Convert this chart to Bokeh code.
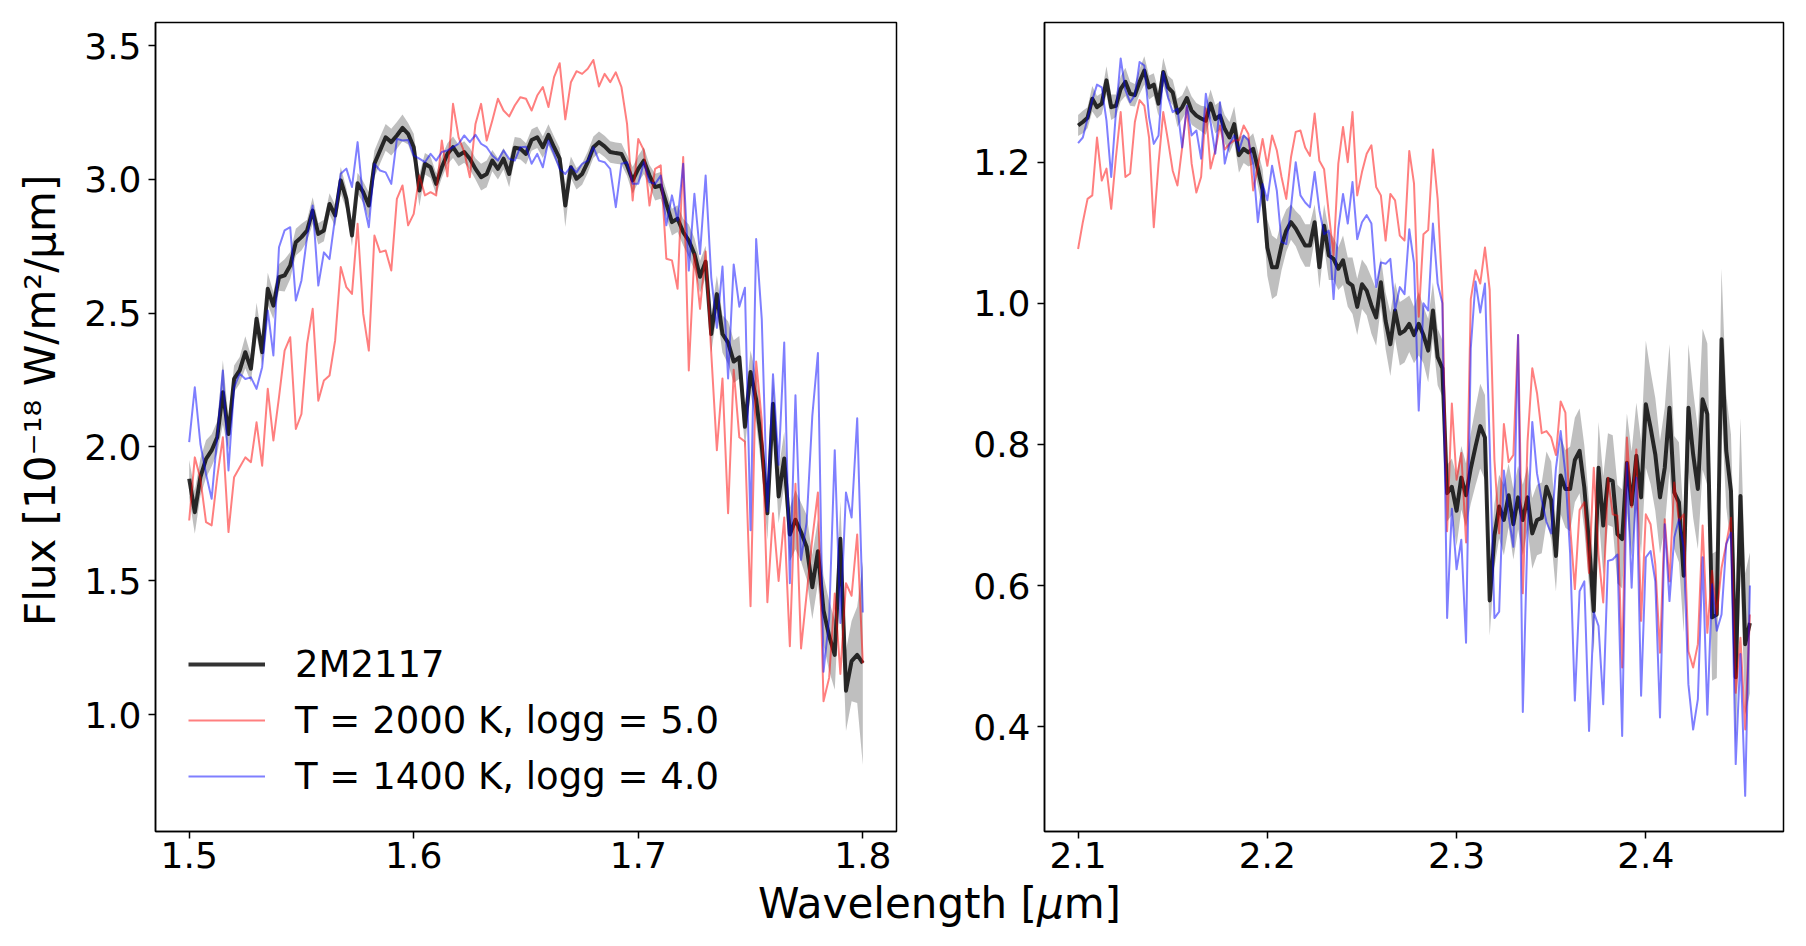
import numpy as np
from bokeh.plotting import figure
from bokeh.layouts import row, column
from bokeh.models import Range1d, FixedTicker, PrintfTickFormatter, Legend, LegendItem, Div
from bokeh.embed import file_html
from bokeh.resources import INLINE

# Wavelength grid of the spectra (micron)
STEP = 0.0025
H_START = 1.5
K_START = 2.1

# H band: observed 2M2117 flux, its uncertainty, and the two model spectra
h_obs = [
    1.881, 1.756, 1.887, 1.955, 1.987, 2.036, 2.204, 2.048, 2.254, 2.286,
    2.354, 2.292, 2.479, 2.354, 2.591, 2.528, 2.634, 2.641, 2.678, 2.765,
    2.784, 2.809, 2.883, 2.796, 2.809, 2.908, 2.865, 2.996, 2.927, 2.790,
    2.985, 2.952, 2.902, 3.058, 3.108, 3.157, 3.139, 3.164, 3.192, 3.170,
    3.120, 2.958, 3.058, 3.045, 2.983, 3.045, 3.095, 3.120, 3.089, 3.102,
    3.077, 3.039, 3.008, 3.020, 3.070, 3.039, 3.077, 3.020, 3.118, 3.114,
    3.095, 3.147, 3.157, 3.120, 3.166, 3.120, 3.077, 2.902, 3.045, 3.002,
    3.020, 3.064, 3.120, 3.139, 3.123, 3.102, 3.098, 3.095, 3.052, 2.996,
    3.039, 3.070, 3.014, 2.971, 2.977, 2.909, 2.840, 2.853, 2.803, 2.771,
    2.721, 2.636, 2.692, 2.422, 2.571, 2.422, 2.390, 2.319, 2.335, 2.075,
    2.280, 2.177, 2.004, 1.752, 2.161, 1.815, 1.957, 1.673, 1.728, 1.681,
    1.626, 1.476, 1.610, 1.389, 1.294, 1.223, 1.657, 1.089, 1.200, 1.223,
    1.192,
]
h_err = [
    0.07, 0.08, 0.07, 0.07, 0.06, 0.06, 0.12, 0.06, 0.05, 0.05, 0.06,
    0.05, 0.06, 0.05, 0.06, 0.05, 0.05, 0.06, 0.05, 0.05, 0.05,
    0.04, 0.05, 0.04, 0.04, 0.04, 0.04, 0.05, 0.04, 0.04, 0.04,
    0.04, 0.05, 0.05, 0.05, 0.05, 0.05, 0.05, 0.05, 0.04, 0.05,
    0.06, 0.04, 0.04, 0.04, 0.04, 0.04, 0.04, 0.04, 0.04, 0.04,
    0.04, 0.05, 0.05, 0.04, 0.04, 0.04, 0.05, 0.04, 0.04, 0.04,
    0.04, 0.04, 0.04, 0.04, 0.04, 0.04, 0.08, 0.04, 0.04, 0.04,
    0.04, 0.04, 0.04, 0.04, 0.04, 0.04, 0.04, 0.04, 0.05, 0.05,
    0.05, 0.04, 0.05, 0.05, 0.05, 0.05, 0.05, 0.05, 0.06, 0.06,
    0.06, 0.06, 0.07, 0.07, 0.07, 0.08, 0.08, 0.08, 0.08, 0.08,
    0.09, 0.09, 0.10, 0.10, 0.10, 0.10, 0.10, 0.11, 0.11, 0.12,
    0.12, 0.12, 0.13, 0.13, 0.13, 0.14, 0.15, 0.15, 0.18, 0.38,
]
h_hot = [
    1.725, 1.961, 1.881, 1.719, 1.707, 1.887, 2.036, 1.682, 1.887, 1.924,
    1.961, 1.943, 2.092, 1.930, 2.217, 2.024, 2.186, 2.360, 2.410, 2.067,
    2.123, 2.385, 2.516, 2.173, 2.248, 2.267, 2.398, 2.672, 2.597, 2.572,
    2.834, 2.497, 2.360, 2.790, 2.728, 2.734, 2.659, 2.927, 2.977, 2.828,
    2.871, 3.014, 2.940, 2.952, 2.940, 3.145, 3.011, 3.282, 3.157, 3.102,
    3.008, 3.207, 3.282, 3.145, 3.220, 3.301, 3.257, 3.235, 3.276, 3.307,
    3.301, 3.257, 3.313, 3.345, 3.270, 3.382, 3.434, 3.224, 3.363, 3.404,
    3.394, 3.413, 3.446, 3.347, 3.394, 3.363, 3.400, 3.345, 3.207, 2.921,
    3.151, 3.108, 2.902, 3.039, 3.052, 2.703, 2.697, 2.591, 3.083, 2.286,
    2.721, 2.516, 2.730, 2.351, 1.988, 2.256, 1.752, 2.288, 2.036, 2.020,
    1.405, 2.319, 2.099, 1.420, 1.752, 1.499, 1.736, 1.255, 1.862, 1.247,
    1.452, 1.657, 1.830, 1.050, 1.137, 1.452, 1.152, 1.491, 1.444, 1.673,
    1.192,
]
h_cool = [
    2.018, 2.223, 2.011, 1.899, 1.806, 2.036, 2.286, 1.912, 2.223, 2.274,
    2.254, 2.260, 2.217, 2.298, 2.510, 2.342, 2.746, 2.809, 2.821, 2.547,
    2.622, 2.784, 2.902, 2.603, 2.727, 2.702, 2.858, 3.021, 3.040, 2.971,
    3.139, 2.921, 2.821, 3.058, 3.033, 3.026, 2.983, 3.151, 3.145, 3.147,
    3.089, 3.077, 3.064, 3.095, 3.070, 3.102, 3.108, 3.120, 3.133, 3.164,
    3.139, 3.166, 3.133, 3.120, 3.089, 3.070, 3.108, 3.077, 3.070, 3.120,
    3.122, 3.058, 3.095, 3.045, 3.145, 3.095, 3.039, 3.020, 3.048, 3.026,
    3.058, 3.070, 3.120, 3.070, 3.064, 3.039, 2.896, 3.058, 3.064, 2.983,
    2.983, 3.064, 2.990, 2.983, 3.014, 2.828, 2.940, 2.846, 3.058, 2.659,
    2.946, 2.721, 3.014, 2.634, 2.445, 2.674, 2.256, 2.682, 2.524, 2.595,
    1.689, 2.777, 2.477, 1.759, 2.272, 1.933, 2.390, 1.491, 2.193, 1.578,
    1.720, 2.115, 2.351, 1.160, 1.357, 1.988, 1.342, 1.830, 1.736, 2.107,
    1.381,
]

# K band
k_obs = [
    1.252, 1.257, 1.263, 1.290, 1.278, 1.283, 1.316, 1.278, 1.280, 1.304,
    1.314, 1.297, 1.295, 1.314, 1.330, 1.306, 1.310, 1.283, 1.328, 1.306,
    1.299, 1.270, 1.278, 1.291, 1.273, 1.266, 1.262, 1.259, 1.283, 1.261,
    1.266, 1.247, 1.235, 1.254, 1.210, 1.219, 1.214, 1.219, 1.191, 1.160,
    1.079, 1.051, 1.051, 1.082, 1.103, 1.115, 1.106, 1.094, 1.082, 1.082,
    1.115, 1.051, 1.110, 1.068, 1.063, 1.049, 1.061, 1.030, 1.025, 0.995,
    1.027, 1.018, 0.997, 0.980, 1.030, 0.975, 0.942, 0.990, 0.957, 0.961,
    0.971, 0.955, 0.971, 0.955, 0.933, 0.990, 0.924, 0.908, 0.731, 0.740,
    0.706, 0.753, 0.728, 0.766, 0.797, 0.826, 0.810, 0.579, 0.671, 0.712,
    0.693, 0.728, 0.687, 0.725, 0.693, 0.725, 0.674, 0.693, 0.696, 0.740,
    0.721, 0.642, 0.756, 0.737, 0.737, 0.778, 0.791, 0.739, 0.659, 0.564,
    0.767, 0.685, 0.751, 0.748, 0.673, 0.666, 0.774, 0.715, 0.784, 0.725,
    0.857, 0.824, 0.786, 0.725, 0.767, 0.852, 0.732, 0.718, 0.614, 0.852,
    0.786, 0.737, 0.864, 0.843, 0.555, 0.559, 0.949, 0.791, 0.734, 0.470,
    0.727, 0.517, 0.547,
]
k_err = [
    0.015, 0.016, 0.015, 0.018, 0.016, 0.015, 0.020, 0.018, 0.016, 0.018,
    0.020, 0.017, 0.016, 0.018, 0.020, 0.017, 0.016, 0.018, 0.020, 0.017,
    0.018, 0.020, 0.017, 0.018, 0.020, 0.018, 0.018, 0.020, 0.020, 0.020,
    0.020, 0.020, 0.022, 0.025, 0.025,
    0.020, 0.020, 0.022, 0.025, 0.030, 0.040, 0.045, 0.040, 0.035, 0.030,
    0.025, 0.025, 0.030, 0.030, 0.030, 0.025, 0.030, 0.030, 0.035, 0.030,
    0.030, 0.035, 0.035, 0.040, 0.040, 0.035,
    0.035, 0.040, 0.040, 0.035, 0.040, 0.045, 0.040, 0.045, 0.045, 0.040,
    0.040, 0.045, 0.040, 0.045, 0.040, 0.040, 0.040,
    0.040, 0.040, 0.050, 0.045, 0.045, 0.050, 0.055, 0.060, 0.060, 0.050,
    0.045, 0.045, 0.050, 0.045, 0.050, 0.045, 0.050, 0.045, 0.050, 0.050,
    0.050, 0.050, 0.055, 0.050, 0.055, 0.055, 0.060, 0.060, 0.060,
    0.060, 0.060, 0.060, 0.065, 0.070, 0.065, 0.065, 0.070, 0.070, 0.070,
    0.075, 0.075, 0.080, 0.090, 0.080, 0.080, 0.080, 0.085, 0.090, 0.080,
    0.085, 0.080, 0.090, 0.090, 0.085, 0.100, 0.100, 0.090, 0.090, 0.100,
    0.080, 0.080, 0.100, 0.110, 0.100, 0.100,
]
k_hot = [
    1.077, 1.115, 1.148, 1.153, 1.235, 1.174, 1.191, 1.134, 1.207, 1.271,
    1.179, 1.184, 1.257, 1.288, 1.280, 1.235, 1.108, 1.198, 1.271, 1.231,
    1.188, 1.167, 1.221, 1.278, 1.198, 1.157, 1.179, 1.276, 1.191, 1.217,
    1.252, 1.218, 1.226, 1.231, 1.231, 1.252, 1.240, 1.160, 1.195, 1.233,
    1.195, 1.238, 1.217, 1.179, 1.148, 1.207, 1.243, 1.245, 1.221, 1.209,
    1.269, 1.202, 1.190, 1.127, 1.068, 1.198, 1.250, 1.200, 1.271, 1.153,
    1.186, 1.212, 1.224, 1.165, 1.153, 1.089, 1.155, 1.146, 1.096, 1.089,
    1.216, 1.170, 0.981, 1.098, 1.104, 1.218, 1.148, 1.012, 0.677, 0.858,
    0.750, 0.788, 0.661, 1.006, 1.047, 1.028, 1.079, 1.019, 0.778, 0.674,
    0.829, 0.775, 0.785, 0.955, 0.589, 0.804, 0.908, 0.873, 0.816, 0.819,
    0.810, 0.785, 0.861, 0.845, 0.684, 0.595, 0.707, 0.718, 0.618, 0.767,
    0.644, 0.576, 0.753, 0.701, 0.699, 0.484, 0.810, 0.711, 0.793, 0.550,
    0.701, 0.687, 0.630, 0.505, 0.694, 0.606, 0.746, 0.692, 0.701, 0.507,
    0.484, 0.517, 0.685, 0.533, 0.621, 0.559, 0.625, 0.659, 0.696, 0.448,
    0.526, 0.396, 0.559,
]
k_cool = [
    1.227, 1.235, 1.262, 1.288, 1.310, 1.306, 1.259, 1.179, 1.271, 1.347,
    1.302, 1.285, 1.295, 1.342, 1.337, 1.264, 1.226, 1.238, 1.328, 1.292,
    1.271, 1.276, 1.221, 1.280, 1.238, 1.245, 1.205, 1.297, 1.257, 1.212,
    1.285, 1.198, 1.226, 1.238, 1.216, 1.238, 1.231, 1.198, 1.115, 1.169,
    1.146, 1.195, 1.160, 1.087, 1.084, 1.136, 1.200, 1.153, 1.143, 1.136,
    1.186, 1.132, 1.098, 1.103, 1.006, 1.106, 1.155, 1.113, 1.172, 1.091,
    1.115, 1.125, 1.113, 1.023, 1.058, 1.056, 1.063, 0.990, 1.023, 1.013,
    1.105, 1.057, 0.848, 1.000, 0.990, 1.113, 1.028, 1.000, 0.554, 0.709,
    0.623, 0.665, 0.519, 0.936, 1.031, 0.987, 1.028, 0.800, 0.554, 0.563,
    0.763, 0.699, 0.655, 0.955, 0.421, 0.677, 0.832, 0.759, 0.721, 0.690,
    0.674, 0.766, 0.819, 0.759, 0.646, 0.437, 0.592, 0.606, 0.394, 0.562,
    0.543, 0.432, 0.635, 0.637, 0.644, 0.387, 0.774, 0.597, 0.753, 0.444,
    0.640, 0.649, 0.606, 0.413, 0.687, 0.578, 0.668, 0.694, 0.654, 0.460,
    0.396, 0.439, 0.640, 0.417, 0.602, 0.536, 0.559, 0.659, 0.675, 0.347,
    0.503, 0.302, 0.600,
]

LABEL_OBS = "2M2117"
LABEL_HOT = "T = 2000 K, logg = 5.0"
LABEL_COOL = "T = 1400 K, logg = 4.0"
Y_LABEL = "Flux [10\u207b\u00b9\u2078 W/m\u00b2/\u03bcm]"

H_XTICKS = [1.5, 1.6, 1.7, 1.8]
H_YTICKS = [1.0, 1.5, 2.0, 2.5, 3.0, 3.5]
K_XTICKS = [2.1, 2.2, 2.3, 2.4]
K_YTICKS = [0.4, 0.6, 0.8, 1.0, 1.2]

FONT = "DejaVu Sans"
TICK_SIZE = "36px"
PLOT_H = 884

wl_h = H_START + STEP * np.arange(len(h_obs))
wl_k = K_START + STEP * np.arange(len(k_obs))


def make_panel(width, border_left, border_right, xr, yr, xticks, yticks):
    p = figure(width=width, height=PLOT_H, x_range=Range1d(*xr), y_range=Range1d(*yr),
               output_backend="svg", toolbar_location=None,
               min_border_left=border_left, min_border_right=border_right,
               min_border_top=22, min_border_bottom=53, margin=0)
    p.grid.visible = False
    p.background_fill_color = "white"
    p.border_fill_color = "white"
    p.outline_line_color = "black"
    p.outline_line_alpha = 1.0
    p.outline_line_width = 1.5
    p.xaxis.ticker = FixedTicker(ticks=xticks)
    p.yaxis.ticker = FixedTicker(ticks=yticks)
    for ax in (p.xaxis[0], p.yaxis[0]):
        ax.formatter = PrintfTickFormatter(format="%.1f")
        ax.axis_line_color = "black"
        ax.axis_line_width = 1.5
        ax.major_tick_line_color = "black"
        ax.major_tick_line_width = 1.5
        ax.major_tick_in = 0
        ax.major_tick_out = 7
        ax.minor_tick_line_color = None
        ax.major_label_text_font = FONT
        ax.major_label_text_font_size = TICK_SIZE
        ax.major_label_text_color = "black"
    p.xaxis.major_label_standoff = 3
    p.yaxis.major_label_standoff = 7
    return p


def draw_spectra(p, wl, obs, err, hot, cool):
    obs = np.asarray(obs)
    err = np.asarray(err)
    p.varea(x=wl, y1=obs - err, y2=obs + err, fill_color="gray", fill_alpha=0.5)
    r_obs = p.line(wl, obs, line_color="black", line_alpha=0.8, line_width=4, line_join="round")
    r_hot = p.line(wl, hot, line_color="red", line_alpha=0.5, line_width=2, line_join="round")
    r_cool = p.line(wl, cool, line_color="blue", line_alpha=0.5, line_width=2, line_join="round")
    return r_obs, r_hot, r_cool


# H band panel
p1 = make_panel(970, 155, 74, (1.485, 1.815), (0.563, 3.586), H_XTICKS, H_YTICKS)
r_obs, r_hot, r_cool = draw_spectra(p1, wl_h, h_obs, h_err, h_hot, h_cool)
p1.yaxis.axis_label = "\u00a0" * 4 + Y_LABEL
p1.yaxis.axis_label_text_font = FONT
p1.yaxis.axis_label_text_font_size = "42px"
p1.yaxis.axis_label_text_font_style = "normal"
p1.yaxis.axis_label_text_color = "black"
p1.yaxis.axis_label_standoff = 16

legend = Legend(items=[
    LegendItem(label=LABEL_OBS, renderers=[r_obs]),
    LegendItem(label=LABEL_HOT, renderers=[r_hot]),
    LegendItem(label=LABEL_COOL, renderers=[r_cool]),
], location=(33, 27))
legend.border_line_color = None
legend.background_fill_alpha = 0
legend.padding = 0
legend.margin = 0
legend.spacing = 0
legend.glyph_width = 77
legend.glyph_height = 56
legend.label_height = 56
legend.label_standoff = 30
legend.label_text_font = FONT
legend.label_text_font_size = "37px"
legend.label_text_color = "black"
legend.label_text_baseline = "middle"
p1.add_layout(legend, "center")

# K band panel
p2 = make_panel(836, 73, 23, (2.08225, 2.47275), (0.2515, 1.398), K_XTICKS, K_YTICKS)
draw_spectra(p2, wl_k, k_obs, k_err, k_hot, k_cool)

# Shared x-axis label below both panels
xlabel = Div(
    text=('<div style="margin-left:758px;margin-top:-4px;font-family:\'DejaVu Sans\';'
          'font-size:42px;line-height:48px;color:#000;white-space:nowrap;">'
          'Wavelength [<i>\u03bc</i>m]</div>'),
    width=1806, height=946 - PLOT_H, margin=0)

layout = column(row(p1, p2, spacing=0), xlabel, spacing=0)

open("out.html", "w").write(file_html(layout, INLINE))
